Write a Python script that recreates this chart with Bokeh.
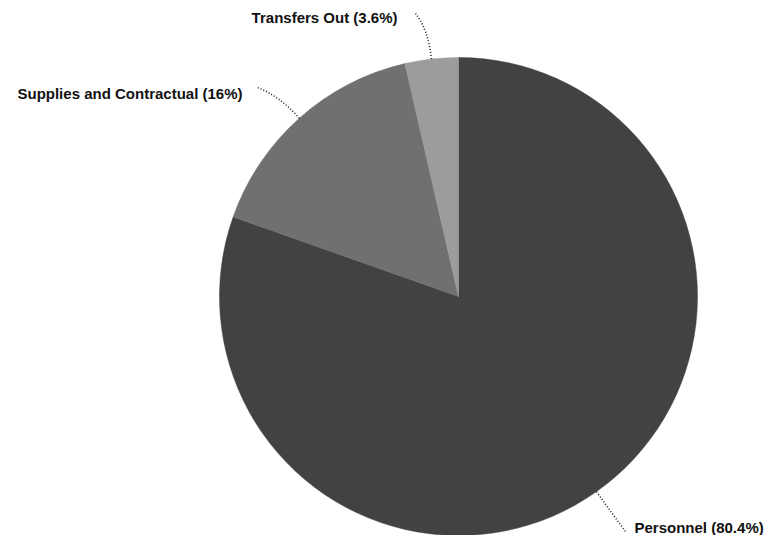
import math
from bokeh.plotting import figure
from bokeh.models import Range1d
from bokeh.core.properties import value
from bokeh.embed import file_html
from bokeh.resources import INLINE

# ---- data ----
categories = ["Personnel", "Supplies and Contractual", "Transfers Out"]
shares = [80.4, 16.0, 3.6]
label_texts = ["Personnel (80.4%)", "Supplies and Contractual (16%)", "Transfers Out (3.6%)"]
colors = ["#424242", "#707070", "#9c9c9c"]

# ---- layout (pixel-like data units) ----
W, H = 765, 535
CX, CY, R = 458, 239, 239
label_anchor = [(634, 8), (242, 442), (397, 518)]
label_align = ["left", "right", "right"]
leader_offset = [(-9, -4), (15, 6), (18, 4)]

p = figure(width=W, height=H, output_backend="svg", toolbar_location=None,
           x_range=Range1d(0, W), y_range=Range1d(0, H), min_border=0)
p.axis.visible = False
p.grid.visible = False
p.outline_line_color = None
p.background_fill_color = "white"

total = sum(shares)
start = math.pi / 2
starts, ends, mids = [], [], []
for s in shares:
    ang = s / total * 2 * math.pi
    starts.append(start)
    ends.append(start - ang)
    mids.append(start - ang / 2)
    start -= ang

p.wedge(x=[CX] * len(shares), y=[CY] * len(shares), radius=R,
        start_angle=ends, end_angle=starts, direction="anticlock",
        fill_color=colors, line_color=colors, line_width=0.5)

for i, m in enumerate(mids):
    x0 = CX + R * math.cos(m)
    y0 = CY + R * math.sin(m)
    cx = CX + (R + 30) * math.cos(m)
    cy = CY + (R + 30) * math.sin(m)
    ax, ay = label_anchor[i]
    x1 = ax + leader_offset[i][0]
    y1 = ay + leader_offset[i][1]
    p.quadratic(x0=[x0], y0=[y0], x1=[x1], y1=[y1], cx=[cx], cy=[cy],
                line_color="#222222", line_width=1.6, line_dash="1 2")
    p.text(x=[ax], y=[ay], text=[label_texts[i]], text_align=label_align[i],
           text_baseline="middle", text_font=value("Liberation Sans"),
           text_font_style="bold", text_font_size="15px", text_color="#111111")

open("out.html", "w").write(file_html(p, INLINE))
